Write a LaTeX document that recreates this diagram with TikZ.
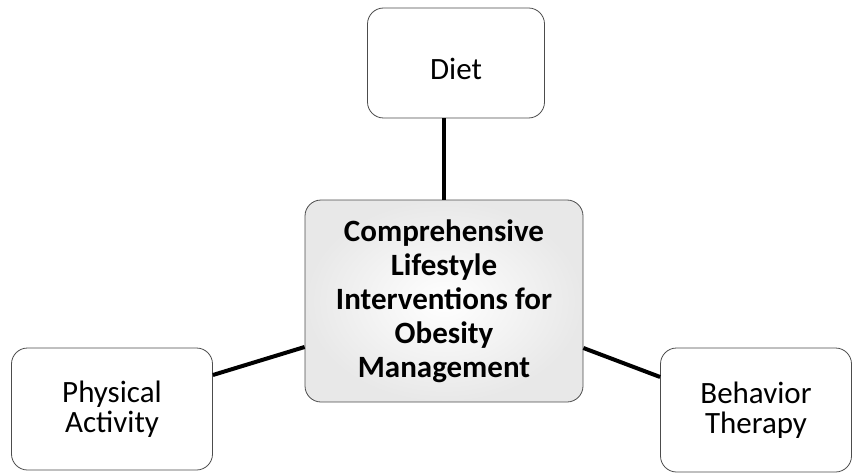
\documentclass[tikz,border=0pt]{standalone}
\usepackage{fontspec}
\setmainfont{Carlito}
\begin{document}
\begin{tikzpicture}[x=1pt,y=1pt,
    box/.style={draw=black!70,line width=0.8pt,rounded corners=16pt,fill=white,
        align=center,font=\fontsize{31}{30}\selectfont},
    hub/.style={box,inner color=white,outer color=black!9,
        font=\fontsize{31}{34}\selectfont\bfseries},
    link/.style={line width=4pt}]
    \useasboundingbox (0,0) rectangle (853,-473);

    \node [hub,minimum width=278pt,minimum height=202pt](hub)at(444,-301){Comprehensive\\Lifestyle\\Interventions for\\Obesity\\Management};
    \node [box,minimum width=177pt,minimum height=110pt,text height=34pt](diet)at(456,-63){Diet};
    \node [box,minimum width=201pt,minimum height=122pt](phys)at(112,-409){Physical\\Activity};
    \node [box,minimum width=191pt,minimum height=124pt](behav)at(756,-410){Behavior\\Therapy};

    \draw [link] (hub.north) -- (hub.north |- diet.south);
    \draw [link] ([yshift=34pt]phys.east) -- ([yshift=-46pt]hub.west);
    \draw [link] ([yshift=-47pt]hub.east) -- ([yshift=33pt]behav.west);
\end{tikzpicture}
\end{document}
